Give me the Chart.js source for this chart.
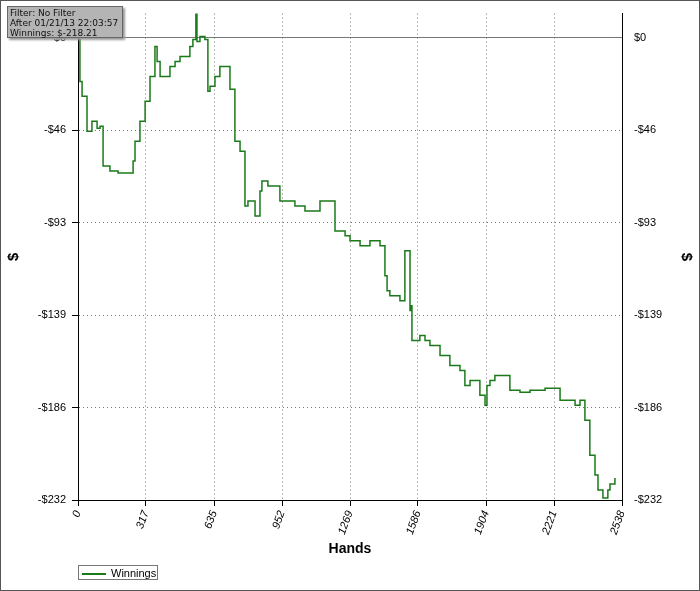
<!DOCTYPE html>
<html><head><meta charset="utf-8">
<script src="https://cdn.jsdelivr.net/npm/chart.js@4"></script>
<style>
html,body{margin:0;padding:0;background:#fff;}
#wrap{position:relative;width:698px;height:589px;border:1px solid #555;}
#info{position:absolute;left:6px;top:5px;width:116px;height:32px;background:#b4b4b4;border:1px solid #666;font:9px "DejaVu Sans",sans-serif;line-height:10px;padding:1px 2px;box-sizing:border-box;color:#111;box-shadow:2px 2px 2px #999;white-space:nowrap;}
#leg{position:absolute;left:77px;top:564px;width:80px;height:15px;border:1px solid #777;font:11px "Liberation Sans",Arial,sans-serif;line-height:15px;color:#000;box-sizing:border-box;}
#leg span{display:inline-block;width:24px;height:0;border-top:2px solid #1a7a1a;vertical-align:middle;margin:0 5px 0 3px;}
</style></head><body>
<div id="wrap"><canvas id="c" width="698" height="589"></canvas>
<div id="info">Filter: No Filter<br>After 01/21/13 22:03:57<br>Winnings: $-218.21</div>
<div id="leg"><span></span>Winnings</div></div>
<script>
const hands=[0,1,9,19,42,65,89,103,117,149,187,196,257,266,289,313,336,359,369,383,392,429,453,476,522,536,550,555,569,592,606,616,639,662,709,732,756,779,793,826,849,858,886,942,980,1012,1059,1129,1199,1246,1269,1316,1362,1409,1432,1442,1455,1502,1525,1549,1552,1558,1595,1619,1642,1689,1735,1782,1805,1829,1875,1899,1908,1922,1945,2015,2062,2109,2179,2249,2319,2342,2365,2388,2412,2426,2449,2472,2482,2505,2528,2538];
const winnings=[0,10.5,-22,-29.5,-47,-42,-45.5,-44.5,-64.5,-67,-68,-68,-62,-52,-42,-32,-19.5,-4.5,-12,-19.5,-19.5,-14.5,-12,-9.5,-4.5,-1,12,-2,0.5,-1,-27,-24.5,-19.5,-14.5,-26,-52,-57,-84.5,-82,-89.5,-77,-72,-74.5,-82,-82,-84.5,-87,-82,-97,-99.5,-102,-104.5,-102,-104.5,-119.5,-127,-129.5,-132,-107,-137,-134.5,-152,-149.5,-152,-154.5,-159.5,-164.5,-167,-174.5,-172,-179.5,-184.5,-174.5,-172,-169.5,-177,-178,-177,-176,-182,-184.5,-182,-192,-209.5,-219.5,-227,-231,-227,-224,-221];
const yTicks=[0,-46.4,-92.8,-139.2,-185.6,-232];
const yLabels=['$0','-$46','-$93','-$139','-$186','-$232'];
const xTicks=[0,317,635,952,1269,1586,1904,2221,2538];
const pts=hands.map((h,i)=>({x:h,y:winnings[i]}));
const F='"Liberation Sans",Arial,sans-serif';
function yAxis(pos){return {type:'linear',position:pos,min:-232,max:12,
 afterBuildTicks:s=>{s.ticks=yTicks.map(v=>({value:v}));},
 afterFit:s=>{s.width=77;},
 ticks:{callback:(v)=>{const i=yTicks.indexOf(v);return i>=0?yLabels[i]:'';},color:'#000',font:{family:F,size:11},padding:6},
 grid:{display:pos==='left',color:'#777',drawTicks:true,tickLength:6,tickColor:'#000'},
 border:{display:true,color:'#000',dash:[1,3]},
 title:{display:true,text:'$',color:'#000',font:{family:F,size:15,weight:'bold'}}};}
new Chart(document.getElementById('c'),{type:'line',
 data:{datasets:[
  {label:'Winnings',data:pts,stepped:true,borderColor:'#1a7a1a',borderWidth:1.5,pointRadius:0,fill:false},
  {label:'zero',data:[{x:0,y:0},{x:2538,y:0}],borderColor:'#777',borderWidth:1,pointRadius:0}
 ]},
 options:{animation:false,responsive:false,
  layout:{padding:{top:11,right:0,left:0,bottom:28}},
  plugins:{tooltip:{enabled:false},legend:{display:false}},
  scales:{
   x:{type:'linear',min:0,max:2538,
    afterBuildTicks:s=>{s.ticks=xTicks.map(v=>({value:v}));},
    afterFit:s=>{s.height=62;},
    ticks:{autoSkip:false,maxRotation:70,minRotation:70,color:'#000',font:{family:F,size:11,style:'italic'},callback:v=>String(v)},
    grid:{color:'#777',tickLength:6,tickColor:'#000'},
    border:{display:true,color:'#000',dash:[1,3]},
    title:{display:true,text:'Hands',color:'#000',font:{family:F,size:14,weight:'bold'},padding:{top:4}}},
   y:yAxis('left'),
   y2:yAxis('right')
  }}});
</script></body></html>
